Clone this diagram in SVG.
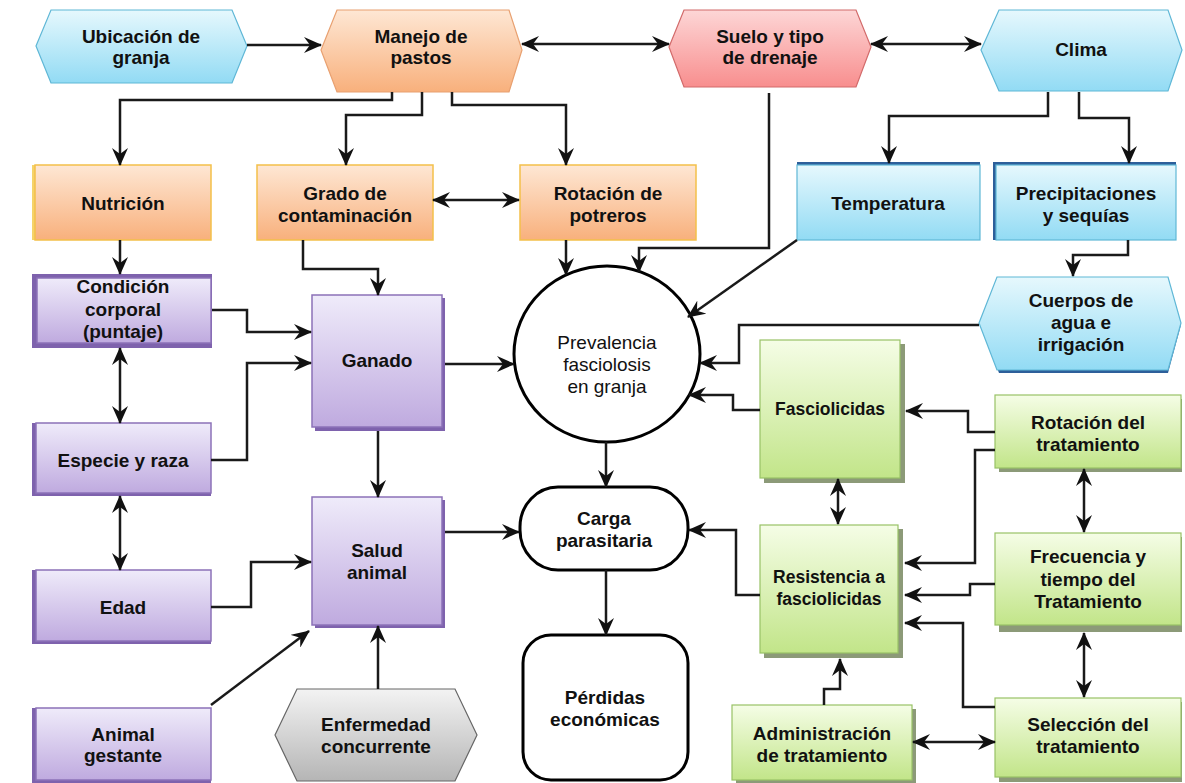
<svg xmlns="http://www.w3.org/2000/svg" width="1185" height="783" viewBox="0 0 1185 783">
<defs>
<linearGradient id="gOr" x1="0" y1="0" x2="0" y2="1"><stop offset="0" stop-color="#fee7d4"/><stop offset="1" stop-color="#f8b07c"/></linearGradient>
<linearGradient id="gBl" x1="0" y1="0" x2="0" y2="1"><stop offset="0" stop-color="#e6f8fd"/><stop offset="1" stop-color="#92dbf4"/></linearGradient>
<linearGradient id="gPk" x1="0" y1="0" x2="0" y2="1"><stop offset="0" stop-color="#fdd6d6"/><stop offset="1" stop-color="#f88e8e"/></linearGradient>
<linearGradient id="gPu" x1="0" y1="0" x2="0" y2="1"><stop offset="0" stop-color="#efebfa"/><stop offset="1" stop-color="#bfaadf"/></linearGradient>
<linearGradient id="gGr" x1="0" y1="0" x2="0" y2="1"><stop offset="0" stop-color="#f5fde6"/><stop offset="1" stop-color="#c2e589"/></linearGradient>
<linearGradient id="gGy" x1="0" y1="0" x2="0" y2="1"><stop offset="0" stop-color="#f3f3f3"/><stop offset="1" stop-color="#b5b5b5"/></linearGradient>
<marker id="ah" viewBox="0 0 18 16" markerWidth="18" markerHeight="16" refX="17" refY="8" orient="auto-start-reverse" markerUnits="userSpaceOnUse">
<path d="M0,0 L18,8 L0,16 L6,8 z" fill="#111"/>
</marker>
<style>
.t{font-family:"Liberation Sans",Arial,sans-serif;font-weight:bold;font-size:19px;text-anchor:middle;fill:#111}
.s{font-size:17.5px}
.n{font-weight:normal}
.or{fill:url(#gOr);stroke:#f3c04a;stroke-width:1.5}
.orh{fill:url(#gOr);stroke:#e8a070;stroke-width:1.2}
.bl{fill:url(#gBl);stroke:#5fb7d6;stroke-width:1.2}
.pk{fill:url(#gPk);stroke:#d26a6a;stroke-width:1.2}
.pu{fill:url(#gPu);stroke:#8c72b8;stroke-width:1.5}
.pub{fill:#7e62ad}
.gr{fill:url(#gGr);stroke:#98c266;stroke-width:1.2}
.grs{fill:#8c9a78}
.gy{fill:url(#gGy);stroke:#666;stroke-width:1.2}
.bk{fill:#fff;stroke:#000;stroke-width:3}
.dbl{fill:#2d5f9a}
.c{fill:none;stroke:#1a1a1a;stroke-width:2.5}
.a{marker-end:url(#ah)}
.aa{marker-start:url(#ah);marker-end:url(#ah)}
</style>
</defs>
<rect width="1185" height="783" fill="#fff"/>

<!-- Top row -->
<g id="ubicacion">
<polygon class="bl" points="36,46 51,10 232,10 247,46 232,83 51,83"/>
<text class="t" x="141" y="43">Ubicación de</text>
<text class="t" x="141" y="64">granja</text>
</g>
<g id="manejo">
<polygon class="orh" points="321,50 337,10 509,10 522,50 509,92 337,92"/>
<text class="t" x="421" y="43">Manejo de</text>
<text class="t" x="421" y="64">pastos</text>
</g>
<g id="suelo">
<polygon class="pk" points="669,47 684,10 856,10 871,47 856,87 684,87"/>
<text class="t" x="770" y="43">Suelo y tipo</text>
<text class="t" x="770" y="64">de drenaje</text>
</g>
<g id="clima">
<polygon class="bl" points="981,50 999,10 1168,10 1182,50 1168,91 999,91"/>
<text class="t" x="1081" y="56">Clima</text>
</g>

<!-- Second row -->
<g id="nutricion">
<rect x="32" y="165" width="179" height="75" fill="#f5d36a"/>
<rect class="or" x="35" y="165" width="176" height="75" stroke="#f7dca0"/>
<text class="t" x="123" y="210">Nutrición</text>
</g>
<g id="grado">
<rect class="or" x="257" y="165" width="176" height="75"/>
<text class="t" x="345" y="200">Grado de</text>
<text class="t" x="345" y="222">contaminación</text>
</g>
<g id="rotacion-potreros">
<rect class="or" x="520" y="165" width="176" height="75"/>
<text class="t" x="608" y="200">Rotación de</text>
<text class="t" x="608" y="222">potreros</text>
</g>
<g id="temperatura">
<rect class="dbl" x="797" y="162" width="183" height="78"/>
<rect class="bl" x="797" y="165" width="183" height="75"/>
<text class="t" x="888" y="210">Temperatura</text>
</g>
<g id="precipitaciones">
<rect class="dbl" x="993" y="162" width="183" height="78"/>
<rect class="bl" x="996" y="165" width="180" height="75"/>
<text class="t" x="1086" y="200">Precipitaciones</text>
<text class="t" x="1086" y="222">y sequías</text>
</g>

<!-- Left purple column -->
<g id="condicion">
<rect class="pub" x="32" y="274" width="180" height="74"/>
<rect class="pu" x="37" y="278" width="174" height="65"/>
<text class="t" x="123" y="293">Condición</text>
<text class="t" x="123" y="316">corporal</text>
<text class="t" x="123" y="338">(puntaje)</text>
</g>
<g id="especie">
<rect class="pub" x="32" y="423" width="179" height="73"/>
<rect class="pu" x="36" y="423" width="175" height="70"/>
<text class="t" x="123" y="467">Especie y raza</text>
</g>
<g id="edad">
<rect class="pub" x="32" y="570" width="179" height="74"/>
<rect class="pu" x="36" y="570" width="175" height="71"/>
<text class="t" x="123" y="614">Edad</text>
</g>
<g id="animal-gestante">
<rect class="pub" x="32" y="708" width="179" height="75"/>
<rect class="pu" x="36" y="708" width="175" height="72"/>
<text class="t" x="123" y="741">Animal</text>
<text class="t" x="123" y="762">gestante</text>
</g>
<g id="ganado">
<rect class="pub" x="315" y="298" width="130" height="133"/>
<rect class="pu" x="312" y="295" width="130" height="132"/>
<text class="t" x="377" y="367">Ganado</text>
</g>
<g id="salud">
<rect class="pub" x="315" y="500" width="130" height="128"/>
<rect class="pu" x="312" y="497" width="130" height="128"/>
<text class="t" x="377" y="557">Salud</text>
<text class="t" x="377" y="579">animal</text>
</g>
<g id="enfermedad">
<polygon class="gy" points="275,735 297,689 455,689 477,735 455,781 297,781"/>
<text class="t" x="376" y="731">Enfermedad</text>
<text class="t" x="376" y="753">concurrente</text>
</g>

<!-- Center -->
<g id="prevalencia">
<ellipse class="bk" cx="607" cy="354" rx="93" ry="88"/>
<text class="t n" x="607" y="349">Prevalencia</text>
<text class="t n" x="607" y="371">fasciolosis</text>
<text class="t n" x="607" y="393">en granja</text>
</g>
<g id="carga">
<rect class="bk" x="520" y="487" width="168" height="83" rx="38" ry="40"/>
<text class="t" x="604" y="525">Carga</text>
<text class="t" x="604" y="547">parasitaria</text>
</g>
<g id="perdidas">
<rect class="bk" x="523" y="635" width="165" height="145" rx="28" ry="28"/>
<text class="t" x="605" y="704">Pérdidas</text>
<text class="t" x="605" y="726">económicas</text>
</g>

<!-- Right side -->
<g id="cuerpos">
<polygon class="dbl" points="981,325 999,281 1168,281 1181,325 1168,373 999,373"/>
<polygon class="bl" points="979,323 997,277 1168,277 1181,323 1168,370 997,370"/>
<text class="t" x="1081" y="307">Cuerpos de</text>
<text class="t" x="1081" y="329">agua e</text>
<text class="t" x="1081" y="351">irrigación</text>
</g>
<g id="fasciolicidas">
<rect class="grs" x="764" y="344" width="141" height="139"/>
<rect class="gr" x="760" y="340" width="140" height="138"/>
<text class="t s" x="830" y="415">Fasciolicidas</text>
</g>
<g id="resistencia">
<rect class="grs" x="764" y="529" width="139" height="129"/>
<rect class="gr" x="760" y="525" width="138" height="128"/>
<text class="t s" x="829" y="583">Resistencia a</text>
<text class="t s" x="829" y="605">fasciolicidas</text>
</g>
<g id="rotacion-tratamiento">
<rect class="grs" x="999" y="399" width="183" height="73"/>
<rect class="gr" x="995" y="395" width="186" height="73"/>
<text class="t" x="1088" y="429">Rotación del</text>
<text class="t" x="1088" y="451">tratamiento</text>
</g>
<g id="frecuencia">
<rect class="grs" x="999" y="537" width="183" height="95"/>
<rect class="gr" x="995" y="533" width="186" height="92"/>
<text class="t" x="1088" y="563">Frecuencia y</text>
<text class="t" x="1088" y="586">tiempo del</text>
<text class="t" x="1088" y="608">Tratamiento</text>
</g>
<g id="seleccion">
<rect class="grs" x="999" y="702" width="183" height="80"/>
<rect class="gr" x="995" y="698" width="186" height="79"/>
<text class="t" x="1088" y="731">Selección del</text>
<text class="t" x="1088" y="753">tratamiento</text>
</g>
<g id="administracion">
<rect class="grs" x="736" y="709" width="180" height="74"/>
<rect class="gr" x="732" y="705" width="180" height="75"/>
<text class="t" x="822" y="740">Administración</text>
<text class="t" x="822" y="762">de tratamiento</text>
</g>

<!-- Connectors -->
<g id="connectors">
<line class="c a" x1="247" y1="45" x2="321" y2="45"/>
<line class="c aa" x1="522" y1="44" x2="669" y2="44"/>
<line class="c aa" x1="871" y1="44" x2="981" y2="44"/>
<polyline class="c a" points="392,92 392,100 120,100 120,165"/>
<polyline class="c a" points="422,92 422,115 346,115 346,165"/>
<polyline class="c a" points="452,92 452,105 566,105 566,165"/>
<polyline class="c a" points="1048,92 1048,116 889,116 889,163"/>
<polyline class="c a" points="1079,92 1079,118 1129,118 1129,163"/>
<line class="c aa" x1="433" y1="200" x2="519" y2="200"/>
<polyline class="c a" points="769,93 769,248 639,248 639,272"/>
<line class="c a" x1="566" y1="240" x2="566" y2="275"/>
<line class="c a" x1="797" y1="240" x2="688" y2="317"/>
<polyline class="c a" points="1128,240 1128,255 1073,255 1073,276"/>
<polyline class="c a" points="979,325 739,325 739,363 700,363"/>
<polyline class="c a" points="760,410 733,410 733,395 689,395"/>
<line class="c a" x1="120" y1="240" x2="120" y2="274"/>
<line class="c aa" x1="120" y1="348" x2="120" y2="423"/>
<line class="c aa" x1="120" y1="496" x2="120" y2="570"/>
<polyline class="c a" points="303,240 303,269 378,269 378,295"/>
<polyline class="c a" points="212,310 247,310 247,332 311,332"/>
<polyline class="c a" points="211,460 247,460 247,363 311,363"/>
<polyline class="c a" points="211,607 251,607 251,562 311,562"/>
<line class="c a" x1="211" y1="705" x2="309" y2="631"/>
<line class="c a" x1="378" y1="431" x2="378" y2="497"/>
<line class="c a" x1="378" y1="689" x2="378" y2="626"/>
<line class="c a" x1="445" y1="364" x2="514" y2="364"/>
<line class="c a" x1="445" y1="532" x2="519" y2="532"/>
<line class="c a" x1="606" y1="442" x2="606" y2="487"/>
<line class="c a" x1="606" y1="570" x2="606" y2="635"/>
<polyline class="c a" points="760,595 736,595 736,530 689,530"/>
<line class="c aa" x1="838" y1="479" x2="838" y2="524"/>
<polyline class="c a" points="995,432 968,432 968,411 906,411"/>
<polyline class="c a" points="995,450 975,450 975,563 905,563"/>
<polyline class="c a" points="995,584 970,584 970,595 905,595"/>
<polyline class="c a" points="995,707 963,707 963,623 905,623"/>
<polyline class="c a" points="824,705 824,689 840,689 840,659"/>
<line class="c aa" x1="913" y1="742" x2="995" y2="742"/>
<line class="c aa" x1="1084" y1="469" x2="1084" y2="532"/>
<line class="c aa" x1="1084" y1="633" x2="1084" y2="697"/>
</g>
</svg>
